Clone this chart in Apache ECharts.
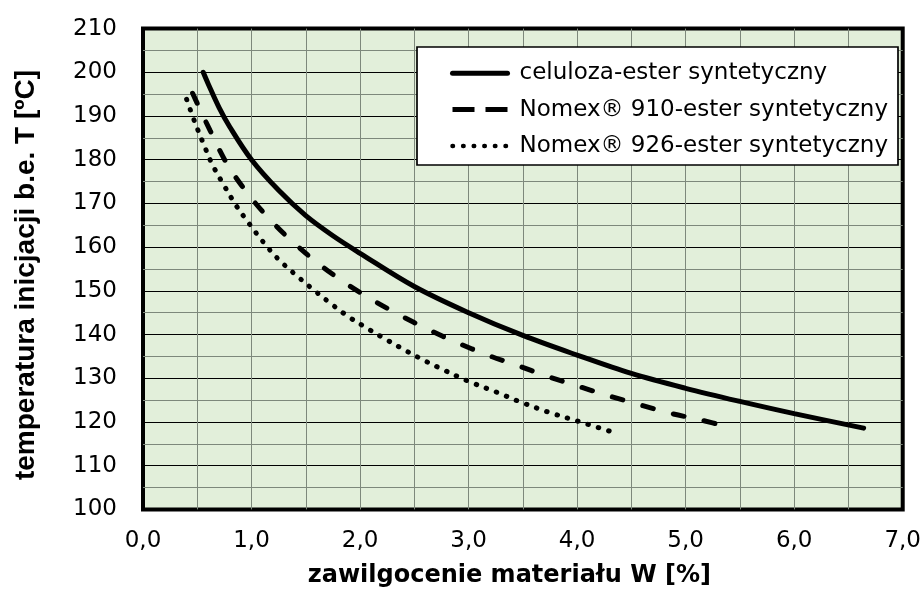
<!DOCTYPE html>
<html><head><meta charset="utf-8">
<script src="https://cdn.jsdelivr.net/npm/echarts@6/dist/echarts.min.js"></script>
<style>html,body{margin:0;padding:0;background:#fff}#c{width:924px;height:602px}</style>
</head><body><div id="c"></div>
<script>
const seriesNames = ['celuloza-ester syntetyczny', 'Nomex® 910-ester syntetyczny', 'Nomex® 926-ester syntetyczny'];
const xAxisName = 'zawilgocenie materiału W [%]';
const yAxisName = 'temperatura inicjacji b.e. T [ºC]';
const xTicks = [0, 1, 2, 3, 4, 5, 6, 7];
const xTickLabels = ['0,0', '1,0', '2,0', '3,0', '4,0', '5,0', '6,0', '7,0'];

const celulozaW = [0.555, 0.6, 0.7, 0.8, 1.0, 1.25, 1.5, 1.75, 2.0, 2.5, 3.0, 3.5, 4.0, 4.5, 5.0, 5.5, 6.0, 6.64];
const celulozaT = [200, 197.4, 192, 187.5, 180, 173, 167.2, 162.6, 158.6, 151.0, 145.0, 139.8, 135.3, 131.1, 127.7, 124.7, 121.9, 118.6];

const nomex910W = [0.457, 0.524, 0.62, 0.766, 0.945, 1.144, 1.362, 1.598, 1.84, 2.095, 2.355, 2.625, 2.89, 3.165, 3.44, 3.71, 4.02, 4.29, 4.57, 4.86, 5.15, 5.40];
const nomex910T = [195.2, 191.6, 186.6, 179.4, 172.9, 167.0, 161.6, 156.6, 152.2, 148.2, 144.6, 141.2, 138.2, 135.4, 133.0, 130.6, 128.1, 126.0, 124.0, 122.0, 120.4, 118.8];

const nomex926W = [0.402, 0.476, 0.555, 0.641, 0.745, 0.856, 0.978, 1.107, 1.245, 1.40, 1.558, 1.714, 1.87, 2.04, 2.21, 2.38, 2.55, 2.72, 2.99, 3.27, 3.455, 3.73, 4.017, 4.30];
const nomex926T = [193.8, 188.7, 183.8, 178.8, 174.2, 169.6, 165.4, 161.2, 157.3, 153.8, 150.5, 147.4, 144.5, 141.8, 139.3, 136.9, 134.6, 132.5, 129.4, 126.7, 124.8, 122.3, 120.1, 117.9];

const zip = (a, b) => a.map((v, i) => [v, b[i]]);
const gray = '#7d887b';
const hidden = {color: 'rgba(0,0,0,0)', borderWidth: 0, opacity: 0};

const chart = echarts.init(document.getElementById('c'), null, {renderer: 'canvas'});
chart.setOption({
  animation: false,
  backgroundColor: '#ffffff',
  grid: {left: 143, right: 20, top: 28.6, bottom: 92.6, show: true,
         backgroundColor: '#E2EFDA', borderColor: '#000', borderWidth: 4},
  xAxis: {
    type: 'value', min: 0, max: 7, interval: 1,
    name: xAxisName, nameLocation: 'middle', nameGap: 54,
    nameTextStyle: {fontFamily: 'DejaVu Sans', fontWeight: 'bold', fontSize: 24, color: '#000', padding: [0, 27, 0, 0]},
    axisLine: {show: false}, axisTick: {show: false},
    axisLabel: {formatter: v => { const i = xTicks.indexOf(v); return i >= 0 ? xTickLabels[i] : ''; },
                fontFamily: 'DejaVu Sans', fontSize: 23, color: '#000', margin: 20},
    splitLine: {show: true, showMinLine: false, showMaxLine: false, lineStyle: {color: gray, width: 1}},
    minorTick: {show: false, splitNumber: 2},
    minorSplitLine: {show: true, lineStyle: {color: gray, width: 1}}
  },
  yAxis: {
    type: 'value', min: 100, max: 210, interval: 10,
    name: yAxisName, nameLocation: 'middle', nameGap: 103,
    nameTextStyle: {fontFamily: 'Liberation Sans', fontWeight: 'bold', fontSize: 28, color: '#000', padding: [0, 12, 0, 0]},
    axisLine: {show: false}, axisTick: {show: false},
    axisLabel: {fontFamily: 'DejaVu Sans', fontSize: 23, color: '#000', margin: 26},
    splitLine: {show: true, showMinLine: false, showMaxLine: false, lineStyle: {color: '#000', width: 1}},
    minorTick: {show: false, splitNumber: 2},
    minorSplitLine: {show: true, lineStyle: {color: gray, width: 1}}
  },
  graphic: [{type: 'rect', z: 3, shape: {x: 417, y: 47, width: 481, height: 118},
             style: {fill: '#fff', stroke: '#000', lineWidth: 1.7}}],
  legend: {
    orient: 'vertical', left: 450, top: 61.3, padding: 0, z: 5,
    itemWidth: 55, itemHeight: 24, itemGap: 12.3,
    textStyle: {fontFamily: 'DejaVu Sans', fontSize: 23, color: '#000', lineHeight: 24, padding: [0, 0, 0, 7]},
    data: [
      {name: seriesNames[0], itemStyle: hidden, lineStyle: {width: 5, type: 'solid'}},
      {name: seriesNames[1], itemStyle: hidden, lineStyle: {width: 5, type: [22, 11], cap: 'butt'}},
      {name: seriesNames[2], itemStyle: hidden, lineStyle: {width: 4.5, type: [0.5, 10.1], cap: 'round'}}
    ]
  },
  series: [
    {name: seriesNames[0], type: 'line', data: zip(celulozaW, celulozaT), symbol: 'none', smooth: 0.35,
     lineStyle: {color: '#000', width: 5, type: 'solid', cap: 'round'}, itemStyle: {color: '#000'}},
    {name: seriesNames[1], type: 'line', data: zip(nomex910W, nomex910T), symbol: 'none', smooth: 0.35,
     lineStyle: {color: '#000', width: 5, type: [11, 20.7], cap: 'round'}, itemStyle: {color: '#000'}},
    {name: seriesNames[2], type: 'line', data: zip(nomex926W, nomex926T), symbol: 'none', smooth: 0.35,
     lineStyle: {color: '#000', width: 5, type: [0.5, 10.3], cap: 'round'}, itemStyle: {color: '#000'}}
  ]
});
</script>
</body></html>
